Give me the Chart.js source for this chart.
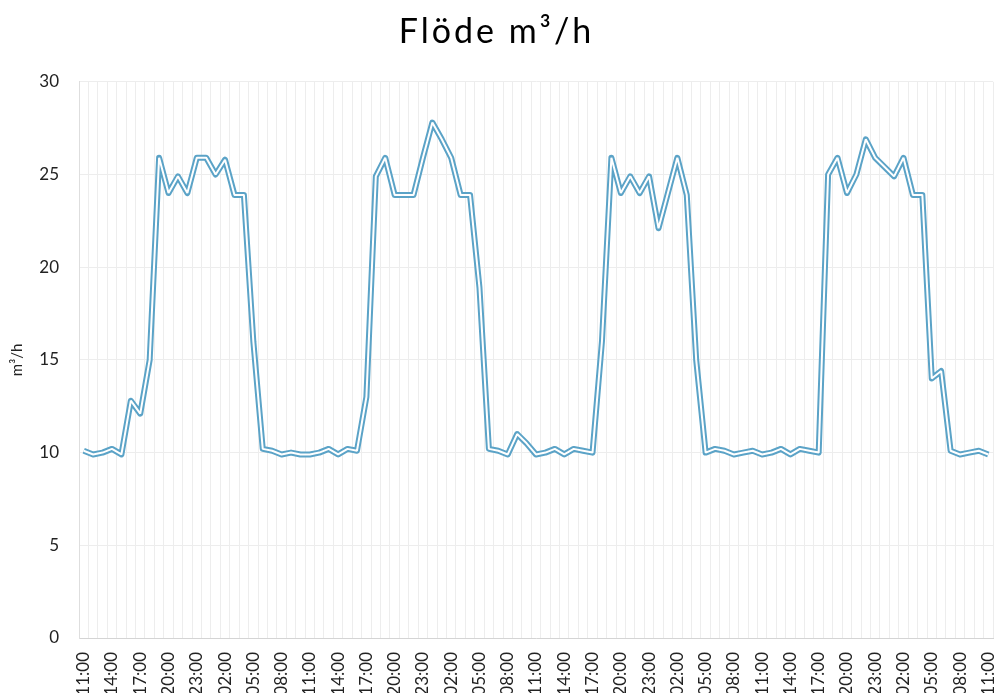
<!DOCTYPE html>
<html lang="sv">
<head>
    <meta charset="UTF-8">
    <title>Flöde m³/h</title>
    <script src="https://cdn.jsdelivr.net/npm/chart.js"></script>
    <style>
        html, body { margin: 0; padding: 0; background: #fff; overflow: hidden; }
    </style>
</head>
<body>
<canvas id="flowChart" width="995" height="693"></canvas>

<script>
    // timmar, en mätning per timme från 11:00 till 11:00 fyra dygn senare
    const hours = ['11:00', '12:00', '13:00', '14:00', '15:00', '16:00', '17:00', '18:00',
        '19:00', '20:00', '21:00', '22:00', '23:00', '00:00', '01:00', '02:00',
        '03:00', '04:00', '05:00', '06:00', '07:00', '08:00', '09:00', '10:00'];
    const labels = [...hours, ...hours, ...hours, ...hours, '11:00'];

    const flow = [
        10.1, 9.9, 10.0, 10.2, 9.9, 12.8, 12.1, 15.0, 25.9, 24.0, 24.9, 24.0,
        25.9, 25.9, 25.0, 25.8, 23.9, 23.9, 16.0, 10.2, 10.1, 9.9, 10.0, 9.9,
        9.9, 10.0, 10.2, 9.9, 10.2, 10.1, 13.0, 24.9, 25.9, 23.9, 23.9, 23.9,
        25.9, 27.8, 26.9, 25.9, 23.9, 23.9, 18.9, 10.2, 10.1, 9.9, 11.0, 10.5,
        9.9, 10.0, 10.2, 9.9, 10.2, 10.1, 10.0, 16.0, 25.9, 24.0, 24.9, 24.0,
        24.9, 22.1, 24.0, 25.9, 23.9, 15.0, 10.0, 10.2, 10.1, 9.9, 10.0, 10.1,
        9.9, 10.0, 10.2, 9.9, 10.2, 10.1, 10.0, 25.0, 25.9, 24.0, 25.0, 26.9,
        25.9, 25.4, 24.9, 25.9, 23.9, 23.9, 14.0, 14.4, 10.1, 9.9, 10.0, 10.1,
        9.9
    ];

    const yTicks = [0, 5, 10, 15, 20, 25, 30];

    const lineBlue = 'rgb(91, 163, 199)';

    // titeln med lite bokstavsavstånd
    const titleSpacing = {
        id: 'titleSpacing',
        afterInit(chart) {
            const tb = chart.titleBlock;
            const orig = tb.draw.bind(tb);
            tb.draw = function () {
                chart.ctx.save();
                chart.ctx.letterSpacing = '3px';
                orig();
                chart.ctx.restore();
            };
        }
    };

    const ctx = document.getElementById('flowChart').getContext('2d');
    // dubbellinje: bred blå linje med en smal vit linje ovanpå
    new Chart(ctx, {
        type: 'line',
        data: {
            labels: labels,
            datasets: [{
                data: flow,
                borderColor: '#ffffff',
                borderWidth: 2,
                borderJoinStyle: 'bevel',
                pointRadius: 0,
                tension: 0
            }, {
                data: flow,
                borderColor: lineBlue,
                borderWidth: 6,
                borderJoinStyle: 'round',
                pointRadius: 0,
                tension: 0
            }]
        },
        plugins: [titleSpacing],
        options: {
            responsive: false,
            animation: false,
            devicePixelRatio: 1,
            layout: { padding: { left: 0, right: 2, top: 0, bottom: 0 } },
            plugins: {
                legend: { display: false },
                tooltip: { enabled: false },
                title: {
                    display: true,
                    text: 'Flöde m³/h',
                    color: '#000',
                    font: { family: 'Lato', size: 34, weight: 'normal' },
                    padding: { top: 12, bottom: 29 }
                }
            },
            scales: {
                x: {
                    offset: true,
                    grid: { color: '#ededed', offset: true, drawTicks: false },
                    border: { color: '#d4d4d4' },
                    ticks: {
                        autoSkip: false,
                        minRotation: 90,
                        maxRotation: 90,
                        padding: 14,
                        color: '#222',
                        font: { family: 'Lato', size: 17 },
                        callback: function (val, i) {
                            return i % 3 === 0 ? labels[i] : '';
                        }
                    },
                    afterFit: function (scale) {
                        scale.height = 55;
                        scale.paddingLeft = 0;
                        scale.paddingRight = 0;
                    }
                },
                y: {
                    min: yTicks[0],
                    max: yTicks[yTicks.length - 1],
                    grid: { color: '#ededed', drawTicks: false },
                    border: { color: '#dedede' },
                    ticks: {
                        stepSize: 5,
                        padding: 20,
                        color: '#222',
                        font: { family: 'Lato', size: 17 }
                    },
                    title: {
                        display: true,
                        text: 'm³/h',
                        color: '#222',
                        font: { family: 'Lato', size: 15 },
                        padding: { top: 8, bottom: 0 }
                    },
                    afterFit: function (scale) {
                        scale.width = 79;
                    }
                }
            }
        }
    });
</script>
</body>
</html>
